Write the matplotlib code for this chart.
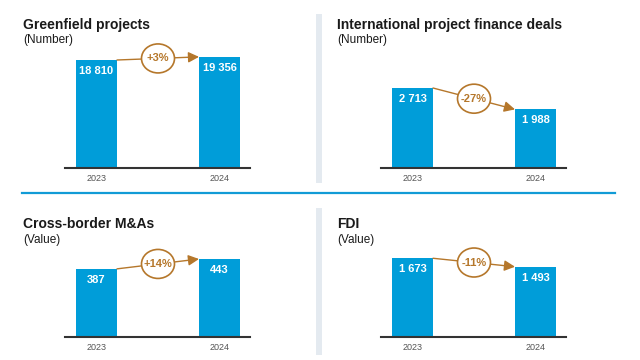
import matplotlib
matplotlib.use("Agg")
import matplotlib.pyplot as plt
from matplotlib.patches import Ellipse
from matplotlib import transforms

plt.rcParams['font.family'] = ['Liberation Sans', 'DejaVu Sans']

years = ['2023', '2024']
greenfield = [18810, 19356]
finance = [2713, 1988]
mna = [387, 443]
fdi = [1673, 1493]

titles = ['Greenfield projects', 'International project finance deals',
          'Cross-border M&As', 'FDI']
units = ['(Number)', '(Number)', '(Value)', '(Value)']
changes = ['+3%', '-27%', '+14%', '-11%']
series = [greenfield, finance, mna, fdi]

BLUE = '#009dd9'
BROWN = '#b5772b'
W, H = 640, 360

fig = plt.figure(figsize=(6.4, 3.6), dpi=100)


def px_rect(x0, y_top, x1, y_bot):
    # pixel box (from top-left) -> figure fraction rect
    return [x0 / W, 1 - y_bot / H, (x1 - x0) / W, (y_bot - y_top) / H]


# layout of each panel: axes left/right, baseline y, title x, title baseline y
panels = [
    dict(x0=65, x1=250, base=168, tx=23, ty=28.5, ymax=22293),
    dict(x0=381, x1=566, base=168, tx=337, ty=28.5, ymax=4341),
    dict(x0=65, x1=250, base=337, tx=23, ty=228, ymax=727),
    dict(x0=381, x1=566, base=337, tx=337, ty=228, ymax=2720),
]

# bar centres sit 31.5px in from the axis start, 123px apart
left_pad = 31.5 / 123
right_pad = (185 - 31.5 - 123) / 123
bw = 41 / 123

for p, vals, title, unit, chg in zip(panels, series, titles, units, changes):
    ax = fig.add_axes(px_rect(p['x0'], p['base'] - 128, p['x1'], p['base']))
    ax.bar([0, 1], vals, width=bw, color=BLUE, zorder=1)
    ax.set_xlim(-left_pad, 1 + right_pad)
    ax.set_ylim(0, p['ymax'])
    for s in ['top', 'left', 'right']:
        ax.spines[s].set_visible(False)
    ax.spines['bottom'].set_color('#333333')
    ax.spines['bottom'].set_linewidth(1.5)
    ax.set_yticks([])
    ax.set_xticks([0, 1])
    ax.set_xticklabels(years, fontsize=6.5, color='#555555')
    ax.tick_params(axis='x', length=0, pad=4)

    for i, v in enumerate(vals):
        lab = f'{v:,}'.replace(',', ' ')
        ax.annotate(lab, (i, v), xytext=(0, -8), textcoords='offset points',
                    ha='center', va='center', color='white',
                    fontsize=8, fontweight='bold')

    # change arrow
    xa, ya = bw / 2, vals[0]
    xb, yb = 1 - bw / 2, vals[1]
    ax.annotate('', xy=(xb, yb), xytext=(xa, ya),
                arrowprops=dict(arrowstyle='-|>', color=BROWN, lw=1,
                                mutation_scale=16, shrinkA=0, shrinkB=0),
                annotation_clip=False, zorder=3)
    xm, ym = (xa + xb) / 2, (ya + yb) / 2
    tr = fig.dpi_scale_trans + transforms.ScaledTranslation(xm, ym, ax.transData)
    ax.add_patch(Ellipse((0, 0), 0.33, 0.29, transform=tr, facecolor='white',
                         edgecolor=BROWN, lw=1.2, zorder=4, clip_on=False))
    ax.text(xm, ym, chg, ha='center', va='center', color=BROWN,
            fontsize=8, fontweight='bold', zorder=5)

    fig.text(p['tx'] / W, 1 - p['ty'] / H, title, fontsize=10,
             fontweight='bold', color='#1a1a1a', va='baseline')
    fig.text(p['tx'] / W, 1 - (p['ty'] + 15) / H, unit, fontsize=8.5,
             color='#1a1a1a', va='baseline')

# separators
fig.add_artist(plt.Line2D([22 / W, 615 / W], [1 - 193 / H, 1 - 193 / H],
                          color='#119bd6', lw=1.6))
for y0, y1 in [(14, 183), (208, 355)]:
    fig.add_artist(plt.Line2D([319 / W, 319 / W], [1 - y0 / H, 1 - y1 / H],
                              color='#e4eaf0', lw=4.3, solid_capstyle='butt'))

fig.savefig('out.png', dpi=100)
